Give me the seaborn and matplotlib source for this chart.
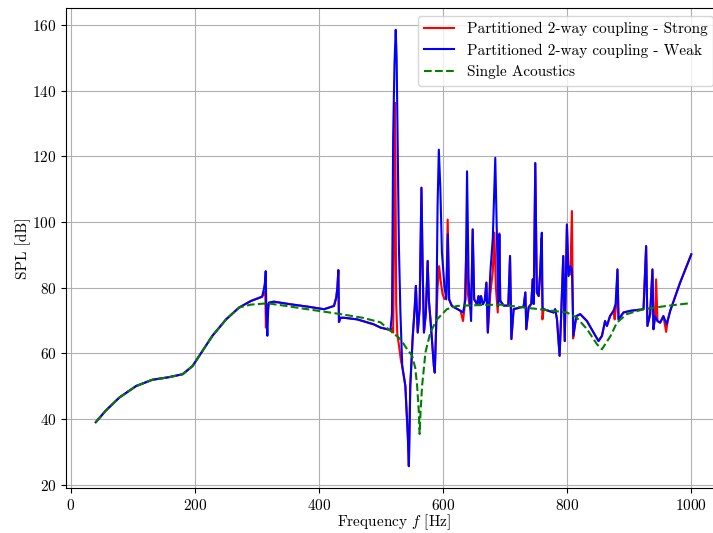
import numpy as np
import matplotlib
matplotlib.use("Agg")
import matplotlib.pyplot as plt
import seaborn as sns

# LaTeX-like look (Computer Modern ships with matplotlib)
plt.rcParams['font.family'] = 'cmr10'
plt.rcParams['mathtext.fontset'] = 'cm'
plt.rcParams['axes.formatter.use_mathtext'] = True
plt.rcParams['font.size'] = 11

# Low-frequency part, identical for all three runs
freq_low = [40, 56, 78, 105, 131, 158, 180, 196, 212, 228, 250, 271]
spl_low = [39.0, 42.5, 46.5, 50.0, 51.9, 52.7, 53.6, 56.1, 60.7, 65.3, 70.3, 73.9]

# Partitioned 2-way coupling - Weak (above 271 Hz)
freq_weak = [290, 308, 311, 313, 313.9, 315, 316.6, 317.8, 319.3, 327, 354, 381,
             408, 424, 427.6, 429.5, 431, 432, 434.6, 440, 461.5, 488, 499, 510,
             515, 517.5, 518.5, 519.4, 521.5, 523.5, 525, 526, 527.3, 528.6, 531,
             534, 539, 543, 544.7, 547, 551, 554, 556, 559, 562, 565, 567, 569,
             572, 575, 577, 579.5, 585, 586.5, 589, 591, 593, 595.5, 598, 602,
             605, 607.5, 609.6, 614, 628, 632, 636, 638.5, 641, 645, 647.6, 650,
             654.6, 657, 659, 661, 664, 667, 669.7, 672, 676, 680, 684, 687.3,
             689, 690.6, 692, 697.5, 705, 707.8, 710, 713.6, 729.7, 732.5, 734,
             737.8, 742, 744.3, 746, 748.5, 751, 754, 756.5, 759, 760.4, 762, 778,
             780.6, 783.5, 787.7, 790, 793.6, 796, 799.5, 802, 805, 807.6, 810,
             814.6, 821, 831.8, 842.4, 850.5, 856, 861, 864, 869, 874.6, 878, 881,
             882.7, 890.7, 901.5, 923, 927.2, 929.3, 933.7, 937.4, 939, 941.7,
             945.5, 949.8, 955, 960.5, 966, 982, 1000]
spl_weak = [75.9, 77.2, 79.5, 82.0, 85.0, 72.0, 65.3, 73.0, 75.4, 75.7, 74.9, 74.2,
            73.4, 74.4, 76.9, 80.0, 85.3, 69.5, 70.8, 70.8, 70.3, 68.8, 67.8, 67.3,
            67.0, 72.0, 100.0, 126.0, 148.0, 158.5, 150.0, 133.6, 110.0, 93.0, 72.9,
            56.1, 50.1, 34.9, 25.6, 50.1, 65.3, 73.4, 80.5, 66.3, 73.4, 110.4, 85.0, 66.3,
            72.0, 88.1, 76.0, 70.3, 56.1, 54.1, 70.0, 105.0, 122.0, 110.0, 90.6, 80.5,
            76.4, 96.2, 76.4, 74.4, 72.9, 72.4, 76.4, 115.4, 82.5, 69.8, 97.7, 76.4,
            74.9, 77.4, 74.9, 77.4, 74.9, 76.0, 81.5, 66.3, 84.5, 95.0, 119.5, 89.6,
            74.4, 96.2, 76.0, 74.5, 74.5, 89.6, 64.3, 73.4, 74.2, 78.5, 67.3,
            74.0, 75.0, 82.5, 75.0, 117.9, 78.5, 77.4, 85.0, 96.7, 73.4, 73.4, 72.4,
            73.4, 70.3, 59.2, 70.3, 89.6, 63.7, 99.2, 83.5, 86.5, 85.5, 65.3,
            71.3, 71.9, 69.8, 66.3, 63.7, 65.3, 69.8, 68.3, 71.3, 72.9, 75.0, 85.5,
            70.3, 72.4, 72.9, 73.4, 92.6, 68.3, 71.9, 85.5, 67.3, 71.3,
            69.8, 69.3, 71.3, 68.8, 72.9, 81.5, 90.1]

# Partitioned 2-way coupling - Strong: only where it departs from the weak run
strong_patch_freq = [
    [311, 313.2, 314.2, 316, 319.3],
    [515, 518, 519.4, 520.5, 522, 523, 524.3, 526, 529, 532, 534],
    [589, 591, 593.5, 596, 599, 602, 605, 607.3, 609.6],
    [628, 632, 634.5, 637.5, 640, 642, 645],
    [676, 680, 682.5, 685, 688, 690.6, 692],
    [758.5, 760, 762],
    [802, 805, 807.6, 809.5],
    [874.6, 876.5, 878.5, 881],
    [939, 941.7, 943.3, 945.5, 949.8, 955, 959.5, 962],
]
strong_patch_spl = [
    [78.0, 78.8, 67.8, 74.5, 75.4],
    [67.0, 67.5, 66.3, 90.0, 136.3, 120.0, 75.0, 66.0, 62.0, 57.6, 56.1],
    [70.0, 80.0, 86.5, 82.0, 78.0, 76.5, 77.0, 100.7, 76.4],
    [72.9, 69.8, 74.0, 92.1, 78.0, 75.0, 73.0],
    [78.0, 85.0, 96.7, 80.0, 72.4, 96.5, 76.0],
    [95.0, 70.3, 73.4],
    [84.0, 84.0, 103.3, 64.5],
    [72.9, 70.3, 74.0, 85.5],
    [67.3, 71.3, 82.5, 69.8, 69.3, 71.3, 66.5, 70.0],
]

# Single Acoustics (above 271 Hz)
freq_single = [290, 317, 350, 381, 435, 470, 499, 515, 531, 542, 550, 555, 558,
               560.5, 562, 563.5, 566, 571.5, 579.5, 590, 606, 622.5, 649, 692,
               735, 746, 799.5, 815, 832, 848, 856, 864.5, 870, 880, 896, 923,
               960, 992, 1000]
spl_single = [74.8, 75.2, 74.3, 73.4, 71.9, 70.8, 69.4, 66.8, 64.3, 61.2, 59.2, 55.5, 50.1,
              43.0, 35.4, 42.0, 50.0, 60.3, 66.4, 70.3, 73.4, 74.4, 74.6, 74.8,
              73.8, 73.6, 72.4, 70.9, 67.3, 62.7, 61.2, 63.7, 65.3, 69.3, 71.9, 73.4,
              74.4, 75.1, 75.2]


def patched(freq, spl, patch_f, patch_s):
    f = np.asarray(freq, float)
    s = np.asarray(spl, float)
    keep = np.ones(len(f), bool)
    for pf in patch_f:
        keep &= ~((f >= min(pf)) & (f <= max(pf)))
    f_all = np.concatenate([f[keep]] + [np.asarray(p, float) for p in patch_f])
    s_all = np.concatenate([s[keep]] + [np.asarray(p, float) for p in patch_s])
    order = np.argsort(f_all)
    return f_all[order], s_all[order]


f_weak = np.array(freq_low + freq_weak, float)
s_weak = np.array(spl_low + spl_weak, float)
f_strong, s_strong = patched(f_weak, s_weak, strong_patch_freq, strong_patch_spl)
f_single = np.array(freq_low + freq_single, float)
s_single = np.array(spl_low + spl_single, float)

fig = plt.figure(figsize=(7.13, 5.33), dpi=100)
ax = fig.add_axes([0.0926, 0.0845, 0.9187, 0.9005])

sns.lineplot(x=f_strong, y=s_strong, color='red', lw=1.5, estimator=None,
             label='Partitioned 2-way coupling - Strong', ax=ax)
sns.lineplot(x=f_weak, y=s_weak, color='blue', lw=1.5, estimator=None,
             label='Partitioned 2-way coupling - Weak', ax=ax)
sns.lineplot(x=f_single, y=s_single, color='green', lw=1.5, linestyle='--',
             estimator=None, label='Single Acoustics', ax=ax)

ax.set_xlabel('Frequency $f$ [Hz]')
ax.set_ylabel('SPL [dB]', labelpad=1)
ax.tick_params(axis='x', pad=4)
ax.xaxis.set_label_coords(0.5, -0.05)
ax.grid(True)
ax.legend(loc='upper right')

fig.savefig('out.png', dpi=100)
